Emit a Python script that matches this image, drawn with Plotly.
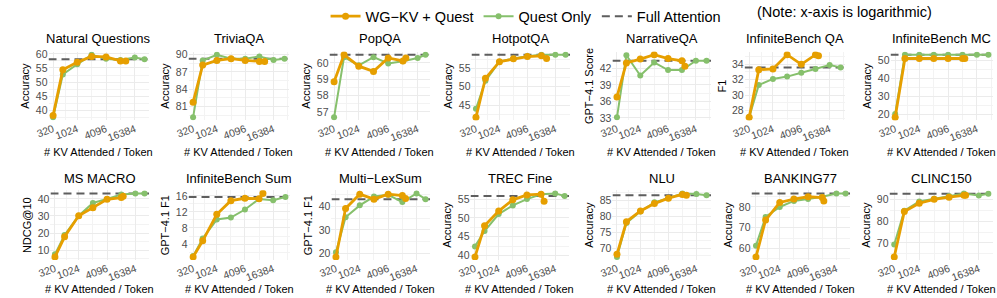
import math
import plotly.graph_objects as go

# ---------------- data ----------------
BUDGETS = [320, 512, 1024, 2048, 4096, 8192, 16384]
TICK_VALS = [320, 1024, 4096, 16384]

TITLES = ["Natural Questions", "TriviaQA", "PopQA", "HotpotQA", "NarrativeQA",
          "InfiniteBench QA", "InfiniteBench MC",
          "MS MACRO", "InfiniteBench Sum", "Multi\u2212LexSum", "TREC Fine", "NLU",
          "BANKING77", "CLINC150"]
Y_TITLES = ["Accuracy", "Accuracy", "Accuracy", "Accuracy", "GPT\u22124.1 Score", "F1", "Accuracy",
            "NDCG@10", "GPT\u22124.1 F1", "GPT\u22124.1 F1", "Accuracy", "Accuracy", "Accuracy", "Accuracy"]
X_TITLE = "# KV Attended / Token"
Y_TICKS = [[40, 45, 50, 55, 60], [81, 84, 87, 90], [57, 58, 59, 60], [45, 50, 55],
           [33, 36, 39, 42], [28, 30, 32, 34], [20, 30, 40, 50],
           [10, 20, 30, 40], [4, 8, 12, 16], [20, 30, 40], [40, 45, 50, 55],
           [70, 75, 80, 85], [60, 70, 80], [70, 80, 90]]

# full attention reference (dashed)
FULL_ATTN = [58.1, 89.3, 60.5, 58.7, 43.4, 33.6, 53.0,
             43.2, 15.7, 42.9, 55.85, 86.6, 86.5, 92.6]

# last x of each series (context-limited budgets)
QUEST_LAST_X = [26100, 28000, 23700, 27200, 28000, 28000, 28500,
                25700, 30000, 25500, 26000, 27200, 25700, 25500]
WGKV_LAST_X = [10600, 10600, 9400, 10600, 9500, 9500, 9150,
               9000, 9900, 9600, 9500, 10000, 8850, 8850]

# Quest Only: values at BUDGETS + last x
QUEST_ONLY = [
    [37.5, 52.7, 56.3, 59.7, 58.3, 57.8, 58.7, 58.1],
    [79.1, 89.0, 90.0, 89.3, 89.3, 89.7, 89.1, 89.3],
    [56.67, 60.35, 59.85, 60.35, 59.96, 60.1, 60.3, 60.5],
    [44.0, 51.6, 56.8, 57.7, 58.3, 58.7, 58.7, 58.7],
    [33.1, 44.4, 40.7, 43.1, 41.7, 41.7, 43.4, 43.4],
    [27.1, 31.3, 32.1, 32.4, 32.9, 33.4, 33.9, 33.6],
    [20.0, 53.0, 53.0, 53.0, 53.0, 53.0, 53.0, 53.0],
    [7.5, 18.8, 30.1, 37.6, 40.0, 42.6, 43.2, 43.2],
    [1.0, 5.4, 10.1, 10.6, 12.6, 15.2, 14.9, 15.7],
    [20.7, 35.3, 40.3, 44.0, 44.7, 41.7, 45.3, 42.9],
    [42.4, 46.5, 51.0, 53.3, 55.0, 56.3, 56.5, 55.85],
    [67.2, 77.9, 81.5, 84.4, 85.7, 87.2, 87.0, 86.6],
    [61.4, 75.2, 80.0, 82.9, 83.8, 84.9, 86.5, 86.5],
    [69.3, 84.8, 89.0, 90.3, 91.5, 92.7, 91.8, 92.6],
]
# WG-KV + Quest: values at BUDGETS[:6] + last x
WGKV_QUEST = [
    [38.1, 54.4, 57.0, 59.1, 58.9, 57.5, 57.5],
    [81.7, 88.2, 89.0, 89.3, 89.0, 88.8, 88.8],
    [58.84, 60.5, 59.8, 59.48, 60.3, 60.12, 60.3],
    [41.7, 52.3, 56.8, 57.6, 58.2, 58.4, 57.7],
    [36.8, 43.0, 43.7, 44.5, 43.8, 43.4, 42.4],
    [27.1, 33.3, 33.4, 35.25, 34.0, 35.25, 35.1],
    [18.2, 50.9, 50.9, 50.9, 50.9, 50.9, 50.9],
    [6.0, 17.8, 30.1, 34.8, 39.8, 40.8, 41.5],
    [0.8, 4.8, 11.4, 14.8, 15.4, 15.3, 16.6],
    [18.7, 39.0, 45.0, 42.9, 45.0, 44.4, 43.2],
    [39.6, 47.9, 51.8, 54.8, 56.1, 56.3, 54.4],
    [68.0, 78.3, 81.7, 84.0, 85.7, 86.9, 86.6],
    [56.0, 73.7, 82.2, 83.8, 84.9, 84.5, 82.9],
    [63.6, 84.4, 88.2, 90.0, 91.0, 91.9, 91.9],
]

# ---------------- layout geometry (pixels) ----------------
W, H = 997, 298
COLS_PX = [
    [(35, 137), (177, 279), (320, 422), (464, 564), (607, 707), (741, 843), (889, 993)],
    [(37, 137), (177, 280), (322, 422), (463, 563), (607, 707), (748, 848), (888, 993)],
]
ROWS_PX = [(47, 118), (190, 262)]
TITLE_Y_PX = [33, 178]
XTITLE_Y_PX = [151, 292]

ORANGE = "#E69F00"
GREEN = "#86C06C"
GREY = "#5E5E5E"
GRID = "#EBEBEB"
FONT = "Liberation Sans, Arial, sans-serif"

fig = go.Figure()
annotations = []

for i in range(14):
    r, c = divmod(i, 7)
    x0, x1 = COLS_PX[r][c]
    yt, yb = ROWS_PX[r]
    sfx = "" if i == 0 else str(i + 1)
    xname, yname = "x" + sfx, "y" + sfx

    qx = BUDGETS + [QUEST_LAST_X[i]]
    wx = BUDGETS[:6] + [WGKV_LAST_X[i]]
    qy = QUEST_ONLY[i]
    wy = WGKV_QUEST[i]

    lo_l, hi_l = math.log10(min(qx + wx)), math.log10(max(qx + wx))
    xpad = 0.05 * (hi_l - lo_l)
    xr = [lo_l - xpad, hi_l + xpad]

    allv = qy + wy + [FULL_ATTN[i]]
    lo, hi = min(allv), max(allv)
    ypad = 0.05 * (hi - lo)
    yr = [lo - ypad, hi + ypad]

    yt_ = Y_TICKS[i]
    step = yt_[1] - yt_[0]
    yminor = [v + step / 2 for v in [yt_[0] - step] + yt_]
    xminor = [math.sqrt(320 * 1024), 2048, 8192, 32768]

    fig.add_trace(go.Scatter(
        x=[10 ** xr[0], 10 ** xr[1]], y=[FULL_ATTN[i]] * 2, mode="lines",
        line=dict(color=GREY, width=2, dash="8px,5px"),
        name="Full Attention", legendgroup="full", showlegend=(i == 0), legendrank=3,
        xaxis=xname, yaxis=yname, hoverinfo="skip"))
    fig.add_trace(go.Scatter(
        x=qx, y=qy, mode="lines+markers",
        line=dict(color=GREEN, width=2), marker=dict(color=GREEN, size=6),
        name="Quest Only", legendgroup="quest", showlegend=(i == 0), legendrank=2,
        xaxis=xname, yaxis=yname))
    fig.add_trace(go.Scatter(
        x=wx, y=wy, mode="lines+markers",
        line=dict(color=ORANGE, width=2.8), marker=dict(color=ORANGE, size=7),
        name="WG\u2212KV + Quest", legendgroup="wgkv", showlegend=(i == 0), legendrank=1,
        xaxis=xname, yaxis=yname))

    fig.update_layout(**{
        ("xaxis" + sfx): dict(
            domain=[x0 / W, x1 / W], anchor=yname, type="log", range=xr,
            tickmode="array", tickvals=TICK_VALS, ticktext=[str(v) for v in TICK_VALS],
            tickangle=-20, tickfont=dict(size=10.5, color="#4D4D4D", family=FONT),
            showgrid=True, gridcolor=GRID, gridwidth=1, zeroline=False, showline=False,
            ticks="", minor=dict(tickmode="array", tickvals=xminor, showgrid=True,
                                 gridcolor="#F3F3F3", gridwidth=0.7),
        ),
        ("yaxis" + sfx): dict(
            domain=[1 - yb / H, 1 - yt / H], anchor=xname, range=yr,
            tickmode="array", tickvals=yt_, ticktext=[str(v) for v in yt_],
            tickfont=dict(size=10.5, color="#4D4D4D", family=FONT),
            showgrid=True, gridcolor=GRID, gridwidth=1, zeroline=False, showline=False,
            ticks="", minor=dict(tickmode="array", tickvals=yminor, showgrid=True,
                                 gridcolor="#F3F3F3", gridwidth=0.7),
            title=dict(text=Y_TITLES[i], font=dict(size=11, color="black", family=FONT),
                       standoff=3),
        ),
    })

    annotations.append(dict(
        text=TITLES[i], x=(x0 + x1) / 2 / W, y=1 - TITLE_Y_PX[r] / H,
        xref="paper", yref="paper", xanchor="center", yanchor="middle",
        showarrow=False, font=dict(size=13, color="black", family=FONT)))
    annotations.append(dict(
        text=X_TITLE, x=(x0 + x1) / 2 / W, y=1 - XTITLE_Y_PX[r] / H,
        xref="paper", yref="paper", xanchor="center", yanchor="middle",
        showarrow=False, font=dict(size=11, color="black", family=FONT)))

annotations.append(dict(
    text="(Note: x-axis is logarithmic)", x=752 / W, y=1 - 6 / H,
    xref="paper", yref="paper", xanchor="left", yanchor="middle",
    showarrow=False, font=dict(size=14.5, color="black", family=FONT)))

fig.update_layout(
    width=W, height=H, margin=dict(l=0, r=0, t=0, b=0),
    paper_bgcolor="white", plot_bgcolor="white",
    font=dict(family=FONT, color="black"),
    annotations=annotations,
    legend=dict(orientation="h", x=316 / W, y=1.02, xanchor="left", yanchor="top",
                font=dict(size=14.5, family=FONT, color="black"),
                itemwidth=30, traceorder="normal", bgcolor="rgba(0,0,0,0)"),
    hovermode=False,
)

fig.write_html("out.html", config={"displayModeBar": False},
               post_script="document.body.style.margin='0px';")
